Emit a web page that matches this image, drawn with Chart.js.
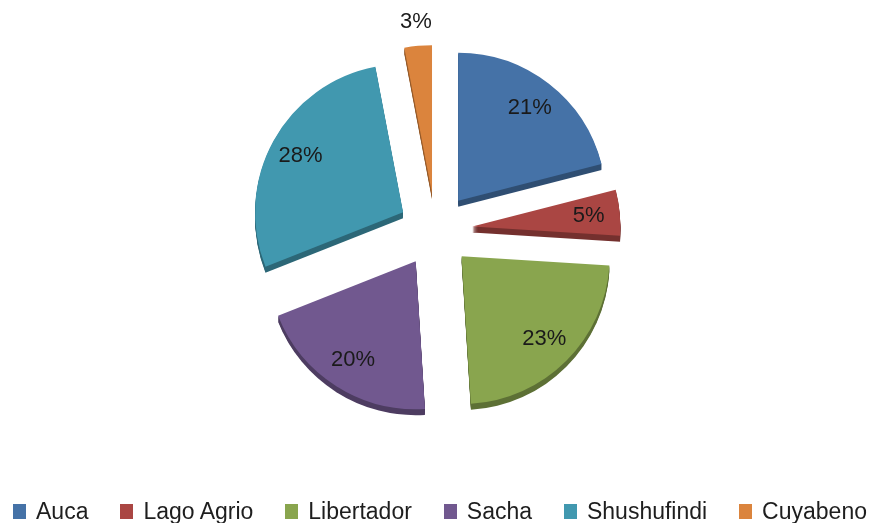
<!DOCTYPE html>
<html>
<head>
<meta charset="utf-8">
<title>Campos</title>
<script src="https://cdn.jsdelivr.net/npm/chart.js@4.4.1/dist/chart.umd.min.js"></script>
<style>
  html, body { margin: 0; padding: 0; background: #fff; }
  #box { position: relative; width: 869px; height: 523px; overflow: hidden; }
  #legend {
    position: absolute; left: 13px; right: 2px; top: 499px; height: 24px;
    display: flex; justify-content: space-between; align-items: center;
    font: 23px "Liberation Sans", Arial, sans-serif; color: #1e1e1e;
  }
  #legend .item { display: flex; align-items: center; white-space: nowrap; }
  #legend i { display: inline-block; width: 13px; height: 15px; margin-right: 10px; }
</style>
</head>
<body>
<div id="box">
  <canvas id="pie" width="869" height="523"></canvas>
  <div id="legend"></div>
</div>
<script>
const fields = ['Auca', 'Lago Agrio', 'Libertador', 'Sacha', 'Shushufindi', 'Cuyabeno'];
const shares = [21, 5, 23, 20, 28, 3];
const sliceColors = ['#4572A7', '#AA4643', '#89A54E', '#71588F', '#4198AF', '#DB843D'];

const explode = 37;   // distance each slice is pulled out
const depth = 6;      // thickness of the 3d side

function darken(hex, k) {
  const n = parseInt(hex.slice(1), 16);
  const r = Math.round(((n >> 16) & 255) * k);
  const g = Math.round(((n >> 8) & 255) * k);
  const b = Math.round((n & 255) * k);
  return `rgb(${r},${g},${b})`;
}

const explodedPie = {
  id: 'explodedPie',
  beforeDatasetDraw(chart, args) {
    const ctx = chart.ctx;
    const arcs = args.meta.data;

    // dark side under each slice
    arcs.forEach((arc, i) => {
      const p = arc.getProps(['x', 'y', 'startAngle', 'endAngle', 'outerRadius']);
      const mid = (p.startAngle + p.endAngle) / 2;
      ctx.fillStyle = darken(sliceColors[i], 0.68);
      for (let d = 1; d <= depth; d++) {
        const cx = p.x + Math.cos(mid) * explode;
        const cy = p.y + Math.sin(mid) * explode + d;
        ctx.beginPath();
        ctx.moveTo(cx, cy);
        ctx.arc(cx, cy, p.outerRadius, p.startAngle, p.endAngle);
        ctx.closePath();
        ctx.fill();
      }
    });

    // top faces
    arcs.forEach(arc => {
      const p = arc.getProps(['startAngle', 'endAngle']);
      const mid = (p.startAngle + p.endAngle) / 2;
      ctx.save();
      ctx.translate(Math.cos(mid) * explode, Math.sin(mid) * explode);
      arc.draw(ctx);
      ctx.restore();
    });
    return false;
  },
  afterDatasetsDraw(chart) {
    const ctx = chart.ctx;
    const arcs = chart.getDatasetMeta(0).data;
    ctx.save();
    ctx.font = '22px "Liberation Sans", Arial, sans-serif';
    ctx.fillStyle = '#1a1a1a';
    ctx.textAlign = 'center';
    ctx.textBaseline = 'middle';
    arcs.forEach((arc, i) => {
      const p = arc.getProps(['x', 'y', 'startAngle', 'endAngle', 'outerRadius']);
      const mid = (p.startAngle + p.endAngle) / 2;
      // small slices get their label outside
      const dist = shares[i] < 4 ? p.outerRadius + explode + 24 : p.outerRadius * 0.79 + explode;
      ctx.fillText(shares[i] + '%', p.x + Math.cos(mid) * dist, p.y + Math.sin(mid) * dist);
    });
    ctx.restore();
  }
};

new Chart(document.getElementById('pie'), {
  type: 'pie',
  data: {
    labels: fields,
    datasets: [{
      data: shares,
      backgroundColor: sliceColors,
      borderWidth: 0
    }]
  },
  options: {
    responsive: false,
    animation: false,
    radius: 148,
    layout: { padding: { left: 2, bottom: 63 } },
    plugins: {
      legend: { display: false },
      tooltip: { enabled: false }
    }
  },
  plugins: [explodedPie]
});

// legend below the pie
const legend = document.getElementById('legend');
fields.forEach((name, i) => {
  const item = document.createElement('span');
  item.className = 'item';
  item.innerHTML = `<i style="background:${sliceColors[i]}"></i>${name}`;
  legend.appendChild(item);
});
</script>
</body>
</html>
